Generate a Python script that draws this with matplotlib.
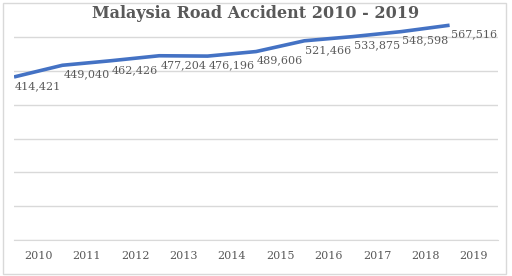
import matplotlib.pyplot as plt
import numpy as np
from matplotlib.patches import Rectangle

years = ['2010', '2011', '2012', '2013', '2014', '2015', '2016', '2017', '2018', '2019']
accidents = [414421, 449040, 462426, 477204, 476196, 489606, 521466, 533875, 548598, 567516]

W, H = 512, 276
fig = plt.figure(figsize=(W / 100, H / 100), dpi=100)
ax = fig.add_axes([14 / W, 1 - 240 / H, 484 / W, 220 / H])

grey = '#595959'
x = np.arange(len(years))
# 线画在分类边界上，数据标签在分类中心
ax.plot(x - 0.5, accidents, color='#4472C4', lw=2.6, solid_capstyle='butt', zorder=3)
for i, v in enumerate(accidents):
    ax.annotate(f'{v:,}', (i, v), xytext=(0, -9), textcoords='offset pixels',
                ha='center', va='center', fontsize=8, color=grey, family='DejaVu Serif')

ax.set_xlim(-0.5, 9.5)
ax.set_ylim(-68000, 583000)
ax.set_yticks(np.arange(-68000, 583000, 100000))
ax.yaxis.grid(True, color='#D9D9D9', lw=1)
ax.set_axisbelow(True)
ax.set_xticks(x)
ax.set_xticklabels(years, family='DejaVu Serif', fontsize=8, color=grey)
ax.tick_params(axis='x', length=0, pad=8)
ax.tick_params(axis='y', length=0, labelleft=False)
for s in ['top', 'left', 'right']:
    ax.spines[s].set_visible(False)
ax.spines['bottom'].set_color('#D9D9D9')

fig.text(0.5, 1 - 14 / H, 'Malaysia Road Accident 2010 - 2019', ha='center', va='center',
         fontsize=11.5, fontweight='bold', color=grey, family='DejaVu Serif')
fig.patches.append(Rectangle((2.5 / W, 2.5 / H), 503 / W, 271 / H, transform=fig.transFigure,
                             fill=False, ec='#D9D9D9', lw=1))

fig.savefig('out.png', dpi=100)
